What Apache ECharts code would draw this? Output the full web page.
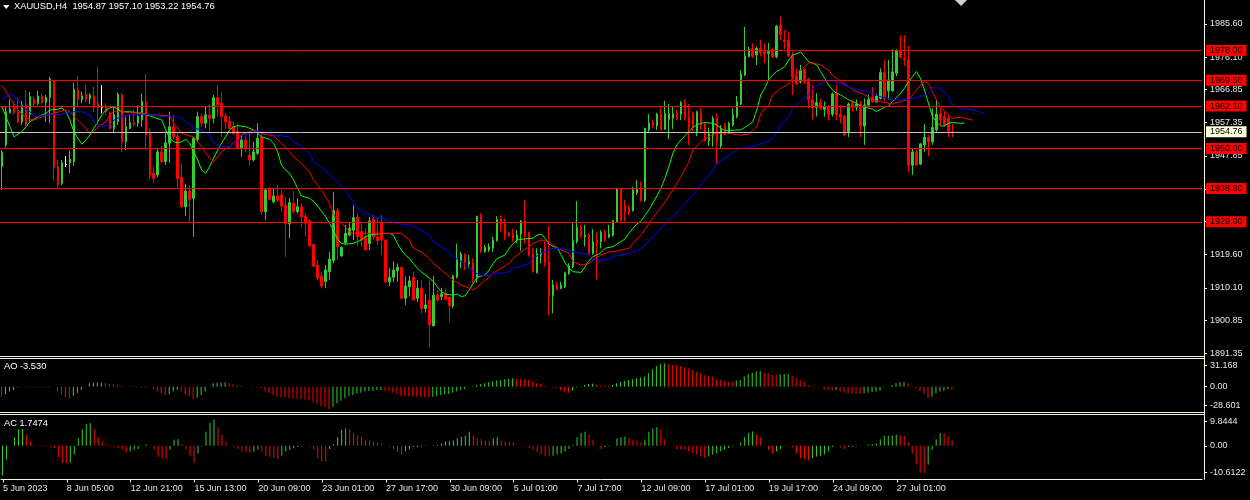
<!DOCTYPE html>
<html><head><meta charset="utf-8">
<script src="https://cdn.jsdelivr.net/npm/echarts@6/dist/echarts.min.js"></script>
<style>html,body{margin:0;padding:0;background:#000;}#c{width:1250px;height:500px;}</style>
</head><body><div id="c"></div>
<script>
const symbolTitle = 'XAUUSD,H4  1954.87 1957.10 1953.22 1954.76';
const aoTitle = 'AO -3.530';
const acTitle = 'AC 1.7474';
const slotCount = 301;
const categories = Array.from({length: slotCount}, (_, i) => String(i));
const tickLabels = ['5 Jun 2023','8 Jun 05:00','12 Jun 21:00','15 Jun 13:00','20 Jun 09:00','23 Jun 01:00','27 Jun 17:00','30 Jun 09:00','5 Jul 01:00','7 Jul 17:00','12 Jul 09:00','17 Jul 01:00','19 Jul 17:00','24 Jul 09:00','27 Jul 01:00'];
const priceTicks = [1985.60,1976.10,1966.85,1957.35,1947.85,1938.35,1929.10,1919.60,1910.10,1900.85,1891.35];
const aoTickText = ['31.168','0.00','-28.601'];
const acTickText = ['9.8444','0.00','-10.6122'];
const levels = [1978.00,1969.50,1962.10,1950.00,1938.50,1929.00];
const lastPrice = 1954.76;

const opens = [
1944.8,1951.0,1960.2,1961.9,1960.5,1957.6,1962.4,1959.6,1964.0,1962.9,
1965.0,1963.1,1964.6,1969.4,1944.8,1940.0,1945.4,1945.9,1946.2,1966.7,
1963.9,1965.5,1964.3,1965.0,1962.9,1961.8,1961.9,1960.2,1955.7,1957.6,
1965.3,1951.9,1955.7,1957.4,1957.2,1958.3,1963.4,1954.3,1942.9,1942.4,
1949.0,1946.2,1951.5,1956.2,1953.5,1941.7,1933.3,1937.8,1935.7,1952.6,
1959.1,1957.2,1959.6,1958.6,1964.5,1962.9,1959.3,1957.8,1956.2,1954.8,
1950.0,1952.4,1948.1,1946.7,1948.6,1953.2,1931.9,1938.6,1934.7,1936.4,
1936.7,1933.8,1928.4,1934.3,1931.9,1933.3,1930.6,1929.3,1922.5,1916.6,
1913.5,1911.9,1914.7,1917.9,1932.2,1919.2,1923.0,1925.2,1926.6,1930.2,
1926.2,1924.7,1922.8,1929.7,1924.7,1928.6,1923.8,1911.8,1913.1,1915.0,
1916.0,1907.1,1910.4,1913.1,1907.1,1910.0,1904.2,1906.6,1899.2,1908.0,
1907.6,1908.5,1907.4,1904.9,1913.1,1917.6,1919.5,1916.9,1917.3,1912.8,
1930.6,1920.4,1920.9,1921.4,1923.6,1929.7,1928.4,1925.7,1925.5,1923.8,
1925.5,1929.2,1925.7,1919.8,1914.4,1919.5,1921.9,1917.6,1907.8,1910.9,
1909.9,1910.4,1914.2,1916.1,1923.3,1927.4,1924.7,1925.2,1920.0,1923.8,
1923.3,1925.9,1924.6,1925.2,1929.0,1938.6,1933.8,1932.9,1932.2,1937.3,
1938.6,1935.2,1955.3,1957.6,1956.4,1959.8,1955.5,1958.3,1958.6,1960.2,
1959.8,1962.9,1959.1,1960.2,1954.8,1960.2,1957.0,1952.2,1953.8,1958.9,
1950.7,1956.4,1954.3,1956.7,1959.1,1962.7,1971.0,1976.2,1978.6,1976.7,
1978.6,1977.9,1977.2,1978.4,1976.2,1985.3,1981.0,1981.0,1976.7,1970.7,
1969.1,1972.6,1969.8,1964.0,1961.8,1963.1,1961.2,1961.8,1959.8,1965.6,
1959.8,1959.3,1954.8,1962.9,1961.8,1962.7,1956.4,1962.4,1964.6,1963.4,
1964.3,1971.7,1966.5,1966.5,1971.5,1978.0,1975.8,1975.5,1945.2,1949.0,
1945.5,1951.0,1953.2,1951.9,1955.3,1960.0,1959.1,1958.6,1954.87];
const highs = [
1949.5,1961.9,1964.0,1963.4,1964.6,1963.6,1966.7,1966.2,1964.8,1966.5,
1965.8,1965.3,1970.5,1969.5,1946.7,1946.7,1947.8,1949.3,1968.8,1970.7,
1966.2,1968.4,1965.8,1967.7,1973.4,1968.1,1962.9,1960.5,1961.9,1966.0,
1965.8,1959.1,1959.6,1961.0,1962.4,1965.8,1971.3,1955.7,1944.8,1950.1,
1950.7,1954.3,1960.5,1959.6,1954.3,1945.7,1939.8,1939.5,1953.3,1960.5,
1960.0,1962.1,1962.7,1965.3,1968.1,1966.0,1960.0,1959.1,1957.6,1957.2,
1953.8,1953.8,1954.3,1951.9,1957.2,1954.8,1938.6,1938.9,1938.6,1939.5,
1938.1,1936.2,1935.7,1937.8,1935.7,1934.3,1931.4,1929.7,1922.8,1918.1,
1914.6,1916.6,1920.4,1937.6,1932.9,1921.9,1928.1,1928.6,1933.8,1931.4,
1928.6,1927.1,1930.4,1930.9,1930.0,1930.9,1923.8,1915.7,1917.6,1917.1,
1916.1,1913.3,1913.5,1914.7,1912.3,1912.3,1908.3,1912.3,1913.5,1909.5,
1910.0,1910.0,1907.6,1913.8,1922.8,1920.4,1920.0,1919.5,1918.5,1930.7,
1931.5,1922.4,1922.8,1924.7,1930.6,1930.9,1930.0,1926.2,1927.1,1926.6,
1929.5,1935.2,1926.2,1921.4,1921.4,1921.4,1923.3,1927.8,1912.3,1911.8,
1911.8,1914.7,1917.1,1928.6,1934.9,1928.1,1928.1,1925.7,1926.9,1925.9,
1926.6,1926.6,1928.1,1929.5,1938.6,1938.6,1935.2,1933.8,1939.0,1941.0,
1940.5,1955.8,1959.8,1958.1,1960.2,1962.1,1963.6,1962.7,1961.9,1961.0,
1963.6,1964.0,1962.7,1960.5,1960.8,1961.5,1957.6,1956.0,1959.3,1960.0,
1956.7,1957.2,1957.6,1961.5,1965.0,1972.4,1984.8,1979.1,1980.1,1979.1,
1981.0,1980.1,1980.2,1978.6,1985.3,1987.7,1983.9,1983.4,1977.7,1972.9,
1973.9,1972.9,1970.1,1968.1,1965.8,1964.3,1963.4,1962.4,1966.0,1968.1,
1962.4,1959.6,1963.1,1963.9,1964.0,1963.6,1964.3,1965.3,1967.5,1965.6,
1972.9,1975.3,1975.3,1978.4,1978.4,1982.4,1982.4,1979.3,1950.0,1949.5,
1951.5,1957.0,1953.8,1961.5,1963.9,1961.5,1960.5,1959.6,1957.10];
const lows = [
1938.1,1950.3,1960.0,1959.6,1957.2,1956.7,1956.4,1957.6,1961.9,1962.4,
1962.7,1957.6,1957.2,1940.7,1939.0,1939.5,1944.7,1942.9,1945.0,1961.8,
1962.9,1963.4,1962.7,1960.5,1956.7,1960.0,1959.6,1955.3,1954.3,1956.7,
1949.0,1949.5,1955.5,1956.2,1956.2,1956.2,1949.5,1941.2,1940.0,1941.8,
1945.8,1945.2,1945.9,1952.4,1938.6,1932.9,1930.7,1928.6,1924.7,1951.9,
1956.2,1955.7,1954.8,1957.2,1959.1,1953.3,1955.7,1955.5,1953.8,1950.0,
1947.6,1949.0,1945.0,1946.2,1948.1,1931.0,1929.5,1935.2,1934.3,1934.7,
1931.9,1919.0,1924.3,1931.4,1931.4,1927.6,1924.7,1921.9,1916.1,1912.3,
1910.0,1910.0,1912.3,1917.1,1918.1,1919.0,1922.4,1924.9,1923.8,1921.9,
1921.9,1920.9,1920.9,1923.8,1922.4,1919.5,1911.4,1910.6,1911.8,1911.8,
1906.8,1905.2,1907.6,1906.4,1906.1,1902.8,1903.0,1893.1,1899.2,1906.1,
1906.6,1906.6,1900.4,1904.2,1912.8,1915.7,1915.2,1915.7,1911.4,1911.6,
1920.1,1920.1,1920.4,1920.4,1923.3,1926.1,1923.8,1924.7,1923.3,1922.8,
1920.7,1922.8,1919.0,1914.4,1914.2,1917.1,1916.1,1902.3,1902.8,1909.5,
1909.7,1910.0,1913.8,1915.7,1922.8,1924.3,1921.9,1919.5,1919.5,1912.5,
1921.4,1923.3,1924.3,1924.7,1928.7,1929.0,1929.0,1930.9,1931.9,1936.7,
1934.7,1934.7,1954.8,1955.8,1955.3,1955.1,1955.3,1952.6,1955.5,1958.1,
1958.1,1957.9,1951.0,1954.8,1953.5,1955.3,1951.9,1950.7,1950.5,1945.7,
1950.0,1953.8,1954.1,1956.2,1958.6,1962.4,1970.7,1976.1,1975.8,1973.9,
1976.4,1974.4,1969.6,1975.8,1975.8,1981.0,1978.4,1976.2,1965.3,1968.1,
1968.6,1968.4,1961.5,1958.3,1959.1,1961.0,1959.1,1958.1,1959.1,1958.1,
1957.2,1953.8,1953.2,1960.5,1960.8,1953.2,1951.0,1962.1,1963.1,1963.1,
1964.0,1963.6,1964.0,1966.2,1970.7,1975.8,1973.6,1943.3,1942.4,1945.0,
1945.2,1949.0,1947.8,1951.0,1954.8,1956.7,1956.2,1953.2,1953.22];
const closes = [
1948.8,1960.5,1961.3,1960.2,1957.6,1962.4,1956.7,1964.8,1962.6,1965.0,
1963.1,1964.6,1969.9,1944.6,1939.5,1945.9,1945.4,1946.9,1966.9,1963.9,
1965.0,1964.0,1965.3,1961.8,1961.6,1961.8,1960.5,1955.7,1959.6,1965.5,
1951.9,1956.2,1957.4,1956.9,1959.1,1963.4,1953.8,1942.4,1941.4,1949.0,
1946.2,1951.6,1956.2,1953.3,1941.4,1933.3,1937.8,1935.4,1952.9,1959.1,
1957.2,1959.6,1958.6,1964.5,1962.4,1959.1,1957.6,1955.7,1954.3,1950.0,
1952.4,1950.0,1946.7,1949.0,1952.9,1931.9,1938.1,1935.4,1936.4,1935.2,
1933.5,1928.4,1934.5,1931.9,1933.3,1930.4,1928.6,1922.1,1916.3,1912.8,
1910.6,1915.2,1918.3,1932.2,1921.9,1921.7,1925.7,1927.1,1930.2,1924.7,
1923.8,1920.9,1929.2,1924.7,1923.6,1923.8,1911.8,1913.1,1915.2,1916.0,
1907.1,1910.6,1912.1,1906.6,1910.0,1904.2,1905.2,1899.5,1908.0,1906.6,
1908.3,1906.8,1904.9,1913.5,1918.5,1919.8,1917.3,1917.6,1912.8,1930.6,
1920.4,1921.7,1921.9,1923.8,1929.7,1928.1,1925.2,1924.9,1924.0,1925.2,
1929.2,1925.2,1919.5,1914.7,1919.8,1920.1,1917.3,1907.6,1910.9,1909.7,
1910.9,1914.4,1916.3,1923.6,1927.4,1925.2,1925.2,1920.0,1923.3,1922.8,
1925.9,1923.6,1925.5,1929.3,1938.6,1929.3,1931.9,1931.6,1938.1,1938.6,
1935.2,1955.8,1957.3,1956.4,1959.8,1955.3,1960.0,1960.0,1960.0,1958.6,
1963.1,1958.9,1956.0,1956.0,1960.5,1956.7,1952.2,1954.1,1958.6,1951.9,
1955.5,1954.1,1957.2,1959.6,1963.4,1971.3,1976.4,1978.4,1976.4,1978.6,
1977.4,1977.0,1977.7,1976.2,1985.0,1982.5,1980.5,1976.4,1970.5,1968.4,
1972.4,1969.1,1963.9,1961.5,1963.1,1961.5,1961.8,1959.8,1965.6,1959.6,
1958.9,1953.8,1962.7,1961.8,1962.7,1956.4,1962.4,1964.0,1963.4,1965.0,
1971.7,1964.3,1969.6,1971.9,1978.0,1976.1,1975.3,1945.2,1949.0,1945.2,
1951.3,1953.2,1951.9,1956.0,1959.8,1958.1,1956.7,1954.8,1954.76];

const lips = [[0,1961.9],[2,1956.2],[3,1953.3],[5,1954.8],[7,1957.6],[9,1959.1],[11,1960.0],[12,1961.0],[14,1961.2],[15,1961.6],[16,1960.5],[17,1958.1],[18,1954.8],[19,1952.9],[20,1951.2],[21,1952.4],[22,1953.8],[23,1955.8],[24,1957.6],[25,1959.6],[26,1961.0],[27,1961.6],[28,1961.9],[30,1960.5],[32,1960.5],[35,1960.0],[37,1959.3],[40,1958.1],[41,1955.3],[42,1952.9],[43,1951.9],[44,1951.6],[45,1951.9],[46,1952.6],[47,1951.5],[48,1949.1],[49,1946.7],[50,1943.8],[51,1942.9],[52,1944.8],[53,1947.2],[54,1949.5],[55,1951.5],[56,1953.3],[57,1955.3],[58,1956.2],[59,1956.5],[61,1956.2],[63,1955.3],[64,1954.3],[65,1953.3],[67,1952.6],[68,1951.5],[69,1949.1],[70,1945.2],[71,1943.8],[72,1942.9],[73,1941.0],[74,1938.6],[75,1936.4],[77,1935.7],[78,1934.9],[79,1933.5],[80,1932.1],[81,1930.5],[82,1928.6],[83,1926.6],[84,1924.0],[85,1922.8],[86,1922.6],[88,1922.8],[89,1923.3],[90,1923.8],[91,1924.7],[92,1925.2],[94,1925.5],[97,1925.7],[98,1925.2],[99,1922.8],[100,1920.9],[101,1919.5],[102,1918.5],[103,1917.1],[104,1915.7],[105,1914.7],[106,1913.8],[107,1912.8],[108,1911.9],[109,1910.4],[110,1909.0],[111,1908.3],[113,1908.0],[114,1908.3],[115,1907.6],[116,1907.8],[117,1909.5],[118,1911.4],[119,1913.1],[121,1913.8],[122,1915.2],[123,1917.1],[124,1918.5],[126,1919.5],[127,1921.4],[128,1922.8],[129,1923.8],[131,1924.1],[133,1924.3],[134,1925.2],[135,1925.4],[136,1924.3],[137,1922.6],[138,1921.9],[139,1921.7],[140,1919.5],[141,1917.3],[142,1915.7],[143,1914.7],[145,1914.5],[146,1916.1],[147,1917.9],[148,1919.0],[149,1919.5],[150,1920.2],[151,1921.4],[153,1921.9],[154,1922.6],[155,1923.3],[156,1924.1],[157,1925.7],[158,1927.1],[159,1928.4],[160,1929.2],[162,1932.4],[164,1936.4],[165,1938.6],[166,1941.4],[167,1944.8],[168,1948.6],[169,1951.0],[170,1952.4],[171,1953.6],[172,1954.8],[173,1956.0],[174,1956.7],[175,1957.2],[176,1957.4],[178,1957.2],[179,1956.7],[180,1955.8],[181,1955.1],[185,1955.3],[186,1956.0],[187,1956.7],[188,1957.6],[189,1961.0],[190,1965.3],[191,1967.2],[192,1969.6],[193,1971.0],[194,1972.0],[195,1972.6],[196,1973.4],[197,1975.3],[198,1976.7],[200,1977.6],[201,1976.2],[202,1974.8],[203,1974.4],[204,1973.9],[205,1972.0],[206,1970.1],[207,1968.1],[208,1966.7],[209,1965.8],[210,1965.3],[211,1964.6],[212,1963.9],[213,1963.4],[214,1962.9],[215,1962.1],[216,1961.8],[217,1961.5],[218,1961.2],[219,1960.5],[220,1961.2],[221,1961.8],[222,1962.1],[223,1963.4],[224,1964.6],[225,1965.8],[226,1967.2],[227,1969.1],[228,1970.5],[229,1972.0],[230,1970.1],[231,1966.7],[232,1962.9],[233,1959.1],[234,1957.6],[235,1956.4],[236,1956.4],[237,1957.2],[238,1957.4],[240,1957.2],[241,1957.2]];
const teeth = [[0,1968.1],[2,1964.4],[4,1961.0],[6,1958.7],[8,1958.1],[10,1959.0],[13,1960.1],[16,1961.0],[17,1960.5],[18,1959.1],[19,1958.1],[21,1955.8],[22,1954.1],[23,1954.8],[24,1956.2],[26,1957.6],[27,1959.6],[28,1960.5],[30,1960.5],[32,1960.2],[35,1960.2],[37,1959.6],[40,1959.4],[42,1959.3],[43,1957.2],[45,1954.3],[47,1953.6],[48,1953.3],[50,1950.5],[52,1947.2],[53,1946.2],[54,1947.5],[55,1949.1],[57,1950.5],[58,1951.6],[60,1953.8],[62,1954.8],[63,1955.3],[64,1954.8],[65,1954.3],[67,1953.8],[68,1953.6],[70,1951.5],[72,1949.1],[73,1947.6],[75,1945.7],[77,1943.3],[78,1941.0],[80,1938.1],[82,1934.3],[83,1930.9],[85,1928.6],[87,1926.2],[88,1925.7],[95,1925.7],[100,1925.7],[102,1923.8],[103,1921.4],[105,1920.4],[107,1918.5],[108,1917.1],[110,1915.2],[112,1913.3],[113,1912.3],[115,1910.9],[117,1910.0],[118,1909.5],[119,1910.2],[120,1911.4],[122,1913.1],[123,1914.3],[125,1915.7],[127,1917.1],[128,1918.5],[130,1920.4],[132,1921.9],[133,1922.8],[135,1923.8],[137,1923.3],[138,1922.4],[140,1920.9],[142,1920.0],[143,1917.6],[145,1916.6],[147,1917.1],[148,1918.1],[150,1919.5],[152,1920.4],[153,1920.4],[155,1920.9],[157,1921.4],[158,1922.8],[160,1925.2],[163,1930.1],[166,1934.7],[168,1938.1],[170,1941.9],[172,1946.2],[173,1949.5],[175,1951.9],[177,1953.3],[178,1954.1],[180,1954.3],[182,1954.5],[183,1954.1],[185,1953.8],[187,1954.1],[188,1955.1],[189,1956.2],[190,1960.0],[192,1962.4],[193,1965.3],[195,1967.2],[197,1968.4],[198,1970.5],[200,1972.4],[202,1974.4],[203,1974.5],[205,1973.9],[207,1972.4],[208,1971.0],[210,1969.1],[212,1967.7],[213,1966.7],[215,1965.8],[217,1964.8],[218,1963.9],[220,1963.4],[222,1962.9],[223,1962.7],[225,1963.4],[227,1964.0],[228,1965.3],[230,1968.1],[231,1969.1],[232,1968.6],[233,1966.2],[234,1963.9],[235,1961.8],[237,1959.6],[238,1958.6],[240,1958.9],[243,1958.1]];
const jaw = [[0,1963.9],[1,1964.8],[2,1965.5],[3,1965.0],[4,1963.9],[5,1961.9],[7,1960.5],[8,1959.1],[10,1959.3],[12,1959.6],[15,1959.8],[17,1960.2],[18,1960.5],[20,1960.5],[22,1959.6],[23,1957.6],[25,1956.2],[27,1956.7],[28,1958.1],[30,1959.1],[32,1959.6],[35,1959.8],[38,1959.6],[40,1959.1],[43,1959.3],[45,1958.6],[47,1956.7],[48,1955.8],[50,1955.3],[52,1953.8],[53,1951.5],[55,1950.5],[57,1950.5],[58,1951.5],[60,1952.9],[62,1954.3],[63,1954.8],[65,1954.8],[67,1954.3],[68,1953.8],[70,1953.6],[72,1953.3],[73,1951.9],[75,1950.5],[77,1948.6],[78,1946.2],[80,1944.6],[83,1941.5],[86,1938.1],[88,1934.3],[90,1931.9],[92,1931.2],[93,1930.5],[95,1930.0],[97,1929.3],[98,1928.7],[100,1928.3],[102,1928.1],[103,1927.6],[105,1926.6],[107,1925.2],[108,1923.3],[110,1921.9],[112,1920.4],[113,1919.0],[115,1917.6],[117,1916.1],[118,1914.7],[120,1913.6],[122,1913.5],[123,1914.3],[125,1914.3],[127,1914.7],[128,1915.7],[130,1916.3],[132,1917.1],[133,1918.5],[135,1920.0],[137,1920.9],[138,1921.4],[140,1921.4],[142,1920.9],[143,1920.4],[145,1920.0],[147,1919.5],[148,1918.5],[150,1917.9],[152,1918.3],[153,1919.0],[155,1919.5],[157,1920.0],[158,1920.4],[160,1921.1],[165,1927.2],[170,1932.9],[174,1938.1],[176,1941.0],[178,1943.8],[179,1945.7],[181,1947.2],[183,1948.6],[184,1949.7],[186,1950.3],[188,1950.5],[189,1951.0],[191,1951.6],[193,1952.9],[194,1954.5],[195,1956.7],[197,1959.1],[198,1961.5],[200,1963.6],[202,1965.3],[203,1967.2],[205,1968.6],[207,1969.4],[208,1969.3],[210,1968.6],[212,1967.7],[213,1967.2],[215,1966.7],[217,1966.2],[218,1965.6],[220,1964.8],[222,1964.3],[223,1963.9],[225,1963.9],[227,1964.0],[228,1964.3],[230,1964.8],[232,1965.6],[233,1967.2],[234,1967.7],[235,1967.2],[237,1964.8],[238,1962.4],[240,1961.5],[243,1961.0],[246,1960.1]];

const ao = [
-11.3,-8.6,-5.6,-3.8,-0.6,-0.7,-0.75,-0.8,-0.85,-0.9,
-0.95,-1.0,-1.05,-0.1,-5.6,-8.6,-12,-13.2,-10.5,-7.5,
-3.8,-0.5,3.8,4.3,4.6,4.7,3.8,3.0,2.6,1.9,
0.7,-0.7,-0.5,-0.4,-0.8,-0.7,-0.6,-0.4,-3,-5.6,
-7.5,-9.4,-8.6,-5.6,-3.8,-5.6,-8.6,-11.3,-14.3,-12.4,
-9.4,-5.6,-0.3,3.8,4.5,4.6,4.7,3.8,2.6,1.9,
1.1,0.2,-0.2,-0.7,-0.8,-1.9,-5.6,-7.5,-9.4,-11.3,
-12,-12.4,-13.0,-13.2,-13.4,-14.3,-14.5,-15,-16.9,-19.9,
-21.8,-23.3,-25.2,-22.6,-18.8,-15.8,-13.2,-10.5,-9.4,-7.5,
-6.8,-5.6,-4.9,-4.5,-3.9,-3.8,-4.5,-4.9,-6.8,-8.6,
-10.5,-11.0,-11.2,-11.3,-11.4,-11.5,-11.6,-12,-11.3,-10.5,
-9.4,-8.6,-8.3,-6.8,-5.6,-3.8,-3,-0.8,0.4,1.9,
3,3.8,5.3,6.0,7.0,7.6,8.3,9.0,9.4,9.0,
8.3,8.2,7.5,5.6,3.8,2.6,0.75,0.1,-0.75,-1.9,
-3.8,-5.6,-6.8,-4.5,-1.1,0.2,1.9,3.0,3.3,1.9,
0.75,0.7,0.6,1.9,3.8,5.6,6.4,7.5,8.3,9.4,
10.2,11.3,15,19.6,23.3,25.6,26.3,25.6,24.4,24.1,
23.3,21.8,20.7,18.8,16.9,15.8,13.2,12,11.3,8.3,
7.5,6.4,5.6,5.5,6.8,7.5,11.3,14.3,15.8,17.3,
17.7,15.8,15,13.2,13.0,13.9,14.3,14.4,12,9.4,
7.5,5.6,1.9,0.75,0.1,-0.75,-2.6,-3.8,-4.5,-3.9,
-5.6,-6.8,-7.5,-7.6,-8.3,-8.4,-7.5,-6.8,-6,-5.6,
-4.5,-0.75,0,1.9,3.8,4.9,5.6,3.8,0.75,-1.9,
-4.5,-8.3,-13.2,-11.3,-7.5,-5.6,-4.5,-3.0,-3.53];
const ac = [
-9.5,-4.4,-0.1,2.7,5.3,5.35,3.5,1.4,-0.1,-0.15,
-0.2,-0.25,-0.3,-0.7,-3.6,-5.5,-5.6,-5.4,-2.8,2.4,
5.3,7.0,7.2,5.3,2.7,1.4,0.3,-0.2,-0.4,-0.7,
-1.3,-2.1,-1.8,-1.3,-1.05,-0.1,0.5,0,-1.3,-3.6,
-3.9,-4.2,-1.3,1.9,2.1,0.6,-1.05,-3.2,-5.3,-2.5,
-0.2,4.5,7.4,8.4,5.9,3.5,1.4,0,-0.4,-1.05,
-1.8,-2.1,-2.15,-1.8,-1.3,-1.8,-3.2,-3.6,-3.9,-4.2,
-3.2,-1.8,-1.3,-0.7,-0.4,-0.2,0.05,-0.2,-1.3,-3.9,
-5.0,-5.1,-1.05,0.5,2.7,5.1,5.5,5.3,4.0,3.2,
2.9,1.9,1.7,1.4,1.05,0.5,0,-0.2,-1.05,-1.8,
-2.9,-1.8,-1.05,-0.4,-0.35,-0.2,-0.1,0,0.2,0.3,
0.8,1.4,1.45,1.7,2.4,2.9,3.2,4.5,3.2,2.4,
2.1,1.7,1.6,2.4,2.7,1.7,1.4,1.35,1.05,0,
-0.2,-0.25,-0.7,-1.3,-2.1,-2.8,-3.4,-3.45,-3.2,-2.8,
-2.5,-1.8,-1.05,0.3,2.7,4.2,4.5,3.5,1.9,0,
-1.05,-0.4,-0.2,0,2.4,2.7,2.9,2.4,1.9,1.7,
1.05,1.9,4.5,5.5,5.9,5.1,2.1,0.1,-0.1,-1.05,
-1.1,-1.3,-1.8,-2.3,-2.8,-3.4,-3.9,-3.4,-2.8,-2.5,
-1.8,-1.3,-0.7,-0.2,0,1.05,2.7,4.2,4.6,3.5,
2.7,0,-1.3,-2.5,-1.8,-1.05,-0.1,-0.2,-0.4,-2.5,
-3.9,-4.4,-4.6,-3.9,-3.4,-3.2,-2.8,-1.8,-0.4,0.05,
-0.4,-1.05,-0.4,-0.2,-0.15,-0.1,0.05,0.3,0.6,0.8,
2.1,3.2,3.25,3.3,3.5,3.4,3.2,1.05,-2.3,-6.0,
-8.6,-8.7,-6.0,-1.3,2.1,4.1,4.0,3.2,1.7474];

// ---------- styles / layout ----------
const UP = '#32CD32', DOWN = '#FF0000', CREAM = '#F5F5DC', TXT = '#E6E6E6';
const FONT = 'Liberation Sans, Arial, sans-serif';
const GL = -2, GW = 1204;

function histColors(vals, firstColor) {
  const out = [];
  vals.forEach((v, i) => {
    let c;
    if (i === 0) c = firstColor;
    else if (v > vals[i - 1]) c = UP;
    else if (v < vals[i - 1]) c = DOWN;
    else c = out[i - 1];
    out.push(c);
  });
  return out;
}
const aoCol = histColors(ao, DOWN);
const acCol = histColors(ac, UP);

const candleData = opens.map((o, i) => {
  const item = { value: [o, closes[i], lows[i], highs[i]] };
  if (o === closes[i]) item.itemStyle = { color: '#FFFFFF', color0: '#FFFFFF', borderColor: '#FFFFFF', borderColor0: '#FFFFFF' };
  return item;
});

function nearestText(v, pos, texts) {
  let k = 0, best = Infinity;
  pos.forEach((p, j) => { const d = Math.abs(p - v); if (d < best) { best = d; k = j; } });
  return texts[k];
}
const aoLabelPos = [23.6, 0, -21.5];
const acLabelPos = [7.7, 0, -8.47];

function subY(gi, min, max, pos, texts) {
  return {
    gridIndex: gi, type: 'value', position: 'right', offset: 2, min: min, max: max,
    splitLine: { show: false },
    axisLine: { show: true, onZero: false, lineStyle: { color: CREAM, width: 1 } },
    axisTick: { show: true, length: 3, customValues: pos, lineStyle: { color: CREAM } },
    axisLabel: { show: true, customValues: pos, margin: 6, color: TXT, fontSize: 9, fontFamily: FONT,
      formatter: v => nearestText(v, pos, texts) }
  };
}
function histSeries(axisIdx, vals, cols) {
  return [
    { type: 'bar', xAxisIndex: axisIdx, yAxisIndex: axisIdx, barWidth: 1, barGap: '0%',
      data: vals.map((v, i) => ({ value: v, itemStyle: { color: cols[i] } })) },
    { type: 'bar', xAxisIndex: axisIdx, yAxisIndex: axisIdx, barWidth: 1, barGap: '0%', data: [] }
  ];
}

const chart = echarts.init(document.getElementById('c'), null, { renderer: 'canvas' });
const tstyle = { color: '#FFFFFF', fontSize: 9.3, fontWeight: 'normal', fontFamily: FONT };
chart.setOption({
  backgroundColor: '#000000',
  animation: false,
  title: [
    { text: symbolTitle, left: 14, top: 2, padding: 0, textStyle: tstyle },
    { text: aoTitle, left: 4, top: 362, padding: 0, textStyle: tstyle },
    { text: acTitle, left: 4, top: 419, padding: 0, textStyle: tstyle }
  ],
  grid: [
    { left: GL, top: 0, width: GW, height: 356 },
    { left: GL, top: 359, width: GW, height: 53 },
    { left: GL, top: 415, width: GW, height: 64 }
  ],
  xAxis: [
    { gridIndex: 0, type: 'category', data: categories, boundaryGap: true, show: false },
    { gridIndex: 1, type: 'category', data: categories, boundaryGap: true, show: false },
    { gridIndex: 2, type: 'category', data: categories, boundaryGap: true,
      axisLine: { show: true, onZero: false, lineStyle: { color: CREAM, width: 1 } },
      axisTick: { show: true, length: 3.5, alignWithLabel: true, lineStyle: { color: CREAM },
        interval: (idx) => idx % 16 === 0 && idx / 16 < tickLabels.length },
      axisLabel: { show: true, align: 'left', margin: 5, color: TXT, fontSize: 9, fontFamily: FONT,
        interval: (idx) => idx % 16 === 0 && idx / 16 < tickLabels.length,
        formatter: (val, idx) => tickLabels[idx / 16] || '' },
      splitLine: { show: false } },
    { gridIndex: 0, type: 'value', min: -0.5, max: slotCount - 0.5, show: false,
      axisLine: { show: false, onZero: false } }
  ],
  yAxis: [
    { gridIndex: 0, type: 'value', position: 'right', offset: 2, min: 1890.58, max: 1992.47,
      splitLine: { show: false },
      axisLine: { show: true, onZero: false, lineStyle: { color: CREAM, width: 1 } },
      axisTick: { show: true, length: 3, customValues: priceTicks, lineStyle: { color: CREAM } },
      axisLabel: { show: true, customValues: priceTicks, margin: 6, color: TXT, fontSize: 9, fontFamily: FONT,
        formatter: v => Number(v).toFixed(2) } },
    subY(1, -28.601, 31.168, aoLabelPos, aoTickText),
    subY(2, -10.6122, 9.8444, acLabelPos, acTickText)
  ],
  series: [
    { type: 'candlestick', xAxisIndex: 0, yAxisIndex: 0, data: candleData, barWidth: 2, clip: false,
      itemStyle: { color: UP, color0: DOWN, borderColor: UP, borderColor0: DOWN, borderWidth: 1 },
      markLine: {
        silent: true, symbol: ['none', 'none'], animation: false, precision: 2,
        lineStyle: { color: '#FF0000', width: 1, type: 'solid' },
        label: { show: true, position: 'end', distance: 4, formatter: p => Number(p.value).toFixed(2),
          backgroundColor: '#FF0000', color: '#000000', fontSize: 9, fontFamily: FONT,
          lineHeight: 10, padding: [0.5, 4, 0.5, 4] },
        data: levels.map(v => ({ yAxis: v })).concat([{ yAxis: lastPrice,
          lineStyle: { color: '#C0C0C0', width: 1, type: 'solid' },
          label: { backgroundColor: '#FFFFE0', color: '#000000' } }])
      } },
    { type: 'line', name: 'lips', xAxisIndex: 3, yAxisIndex: 0, data: lips, showSymbol: false, symbol: 'none',
      lineStyle: { color: '#00FF00', width: 1 }, z: 3 },
    { type: 'line', name: 'teeth', xAxisIndex: 3, yAxisIndex: 0, data: teeth, showSymbol: false, symbol: 'none',
      lineStyle: { color: '#FF0000', width: 1 }, z: 3 },
    { type: 'line', name: 'jaw', xAxisIndex: 3, yAxisIndex: 0, data: jaw, showSymbol: false, symbol: 'none',
      lineStyle: { color: '#0000FF', width: 1 }, z: 3 }
  ].concat(histSeries(1, ao, aoCol), histSeries(2, ac, acCol)),
  graphic: [
    { type: 'polygon', shape: { points: [[3, 5], [9.5, 5], [6.25, 9]] }, style: { fill: '#FFFFFF' } },
    { type: 'polygon', shape: { points: [[955, 0], [967, 0], [961, 6]] }, style: { fill: '#D0D0D0' } },
    { type: 'line', shape: { x1: 0, y1: 356.5, x2: 1204, y2: 356.5 }, style: { stroke: CREAM, lineWidth: 1 } },
    { type: 'line', shape: { x1: 0, y1: 358.5, x2: 1204, y2: 358.5 }, style: { stroke: CREAM, lineWidth: 1 } },
    { type: 'line', shape: { x1: 0, y1: 412.5, x2: 1204, y2: 412.5 }, style: { stroke: CREAM, lineWidth: 1 } },
    { type: 'line', shape: { x1: 0, y1: 414.5, x2: 1204, y2: 414.5 }, style: { stroke: CREAM, lineWidth: 1 } },
    { type: 'line', shape: { x1: 1204.5, y1: 0, x2: 1204.5, y2: 479.5 }, style: { stroke: CREAM, lineWidth: 1 } }
  ]
});
</script>
</body></html>
